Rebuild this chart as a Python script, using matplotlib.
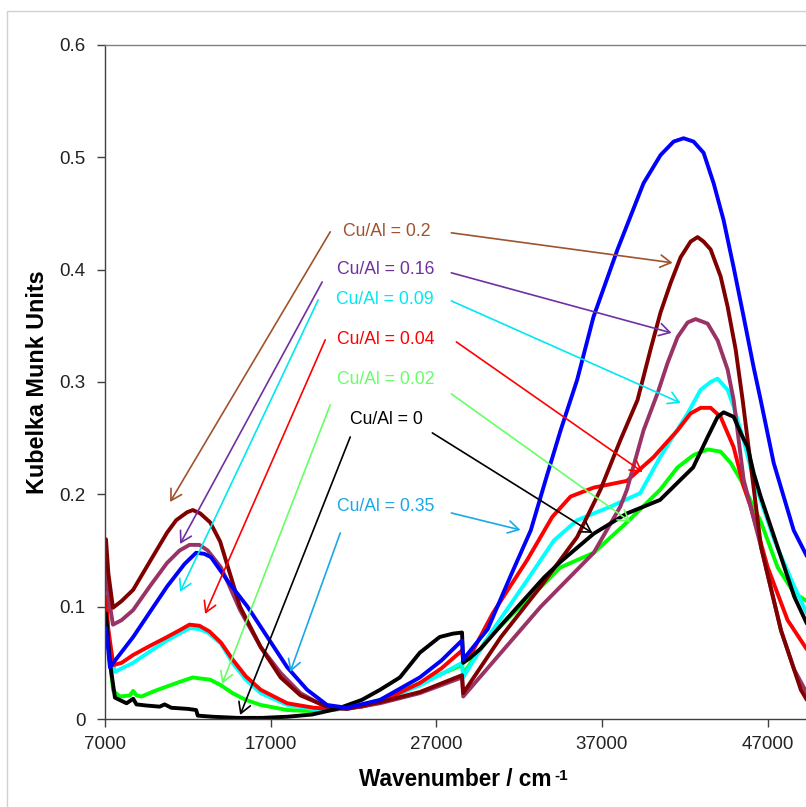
import matplotlib
matplotlib.use("Agg")
import matplotlib.pyplot as plt
from matplotlib.patches import Rectangle

plt.rcParams['font.family'] = ['Liberation Sans', 'DejaVu Sans']

# ---------------- data ----------------
wn_0 = [7060, 7300, 7600, 8300, 8700, 8900, 9500, 10300, 10600, 11000, 12000, 12500, 12600,
        13500, 15000, 16500, 18000, 19500, 21000, 22500, 23600, 24800, 26000, 27200, 28000,
        28550, 28620, 29000, 29700, 31000, 33500, 34500, 36500, 38500, 40500, 42500, 43373,
        43977, 44339, 44944, 45487, 45790, 46152, 46575, 47600, 48600, 49360]
km_0 = [0.094, 0.050, 0.019, 0.014, 0.018, 0.013, 0.012, 0.011, 0.013, 0.010, 0.009, 0.008, 0.003,
        0.002, 0.001, 0.001, 0.002, 0.004, 0.009, 0.017, 0.026, 0.037, 0.059, 0.073, 0.076,
        0.077, 0.050, 0.054, 0.063, 0.085, 0.126, 0.140, 0.165, 0.183, 0.195, 0.224, 0.251,
        0.269, 0.273, 0.269, 0.251, 0.242, 0.219, 0.198, 0.153, 0.109, 0.085]

wn_002 = [7060, 7300, 7500, 7900, 8500, 8700, 8900, 9200, 10000, 10750, 11500, 12300, 12800,
          13350, 14000, 14700, 15500, 16400, 18000, 19500, 20800, 22500, 23600, 26000, 28550,
          28620, 30000, 31500, 33000, 34500, 36500, 38500, 40500, 41560, 42527, 43373, 44158,
          44763, 45367, 46600, 47600, 48600, 49360]
km_002 = [0.094, 0.050, 0.025, 0.020, 0.021, 0.025, 0.021, 0.020, 0.025, 0.029, 0.033, 0.037, 0.036,
          0.035, 0.030, 0.023, 0.017, 0.0125, 0.008, 0.007, 0.008, 0.012, 0.017, 0.032, 0.048,
          0.040, 0.070, 0.092, 0.113, 0.135, 0.148, 0.175, 0.204, 0.224, 0.235, 0.240, 0.238,
          0.228, 0.213, 0.175, 0.135, 0.112, 0.105]

wn_004 = [7060, 7200, 7500, 8000, 8700, 9700, 10750, 11500, 12100, 12700, 13300, 14000, 14700,
          15500, 16400, 18000, 19600, 20800, 22500, 23600, 26000, 27300, 28550, 28620, 29000,
          30400, 32500, 34000, 35100, 36500, 38500, 40100, 41560, 42346, 42950, 43554, 44158,
          44944, 45548, 45971, 47000, 48200, 49360]
km_004 = [0.109, 0.080, 0.048, 0.050, 0.057, 0.065, 0.073, 0.079, 0.084, 0.083, 0.078, 0.068, 0.053,
          0.038, 0.026, 0.014, 0.010, 0.009, 0.011, 0.015, 0.032, 0.045, 0.061, 0.052, 0.055,
          0.094, 0.142, 0.180, 0.198, 0.206, 0.212, 0.233, 0.257, 0.272, 0.277, 0.277, 0.269,
          0.242, 0.207, 0.189, 0.135, 0.088, 0.062]

wn_009 = [7060, 7250, 7600, 8000, 8700, 9700, 10750, 11500, 12100, 12700, 13200, 14000, 14700,
          15500, 16400, 18000, 19500, 20400, 22500, 23600, 26000, 27300, 28550, 28620, 28900,
          30400, 32500, 34100, 35500, 37500, 39300, 40500, 42165, 42950, 43554, 43977, 44581,
          44944, 45548, 46152, 47400, 48600, 49360]
km_009 = [0.100, 0.070, 0.042, 0.045, 0.050, 0.060, 0.070, 0.076, 0.081, 0.080, 0.077, 0.067, 0.050,
          0.035, 0.023, 0.0125, 0.009, 0.008, 0.011, 0.015, 0.030, 0.040, 0.050, 0.037, 0.044,
          0.079, 0.124, 0.159, 0.177, 0.189, 0.201, 0.233, 0.272, 0.293, 0.300, 0.303, 0.293,
          0.278, 0.248, 0.213, 0.159, 0.118, 0.094]

wn_016 = [7060, 7200, 7480, 8000, 8700, 9700, 10750, 11500, 12100, 12700, 13200, 14000, 14400,
          15150, 16400, 17600, 18800, 20400, 21600, 23600, 26000, 28550, 28620, 30900, 33300,
          34500, 36500, 38100, 38500, 39506, 40352, 40956, 41560, 42165, 42648, 43373, 43977,
          44581, 44944, 45548, 46600, 47800, 48600, 49360]
km_016 = [0.139, 0.110, 0.084, 0.088, 0.097, 0.118, 0.139, 0.150, 0.155, 0.155, 0.150, 0.135, 0.122,
          0.097, 0.064, 0.041, 0.023, 0.010, 0.009, 0.014, 0.023, 0.037, 0.020, 0.059, 0.100,
          0.118, 0.148, 0.189, 0.204, 0.257, 0.290, 0.317, 0.340, 0.353, 0.356, 0.352, 0.337,
          0.311, 0.284, 0.213, 0.153, 0.079, 0.044, 0.023]

wn_02 = [7060, 7200, 7480, 8000, 8700, 9700, 10750, 11300, 11950, 12300, 12750, 13350, 13950,
         15150, 16400, 17600, 18800, 20400, 21600, 23600, 26000, 28550, 28620, 30900, 33300,
         35500, 36900, 38100, 39143, 39929, 40533, 41137, 41742, 42346, 42769, 43131, 43554,
         44158, 44581, 45065, 45487, 46600, 47800, 49000, 49360]
km_02 = [0.160, 0.130, 0.099, 0.105, 0.115, 0.140, 0.166, 0.177, 0.184, 0.186, 0.183, 0.175, 0.158,
         0.100, 0.064, 0.037, 0.021, 0.011, 0.009, 0.015, 0.024, 0.039, 0.023, 0.073, 0.118,
         0.162, 0.204, 0.248, 0.284, 0.329, 0.362, 0.388, 0.411, 0.425, 0.429, 0.425, 0.418,
         0.394, 0.367, 0.329, 0.284, 0.153, 0.079, 0.026, 0.017]

wn_035 = [7060, 7300, 7500, 8700, 9700, 10750, 11800, 12500, 13000, 13400, 14500, 15600, 16800,
          18000, 19200, 20400, 21600, 23600, 26000, 27300, 28550, 28620, 30100, 31500, 32700,
          33600, 34500, 35500, 36485, 37935, 39506, 40533, 41319, 41923, 42527, 43131, 43735,
          44339, 44944, 45548, 46152, 46575, 47360, 48569, 49360]
km_035 = [0.081, 0.046, 0.050, 0.073, 0.095, 0.118, 0.138, 0.148, 0.147, 0.144, 0.121, 0.100, 0.073,
          0.046, 0.026, 0.0125, 0.010, 0.017, 0.037, 0.052, 0.070, 0.053, 0.080, 0.128, 0.168,
          0.213, 0.257, 0.302, 0.358, 0.418, 0.477, 0.502, 0.514, 0.517, 0.514, 0.504, 0.477,
          0.444, 0.402, 0.358, 0.313, 0.284, 0.228, 0.168, 0.145]

labels = ["Cu/Al = 0.2", "Cu/Al = 0.16", "Cu/Al = 0.09", "Cu/Al = 0.04",
          "Cu/Al = 0.02", "Cu/Al = 0", "Cu/Al = 0.35"]
x_ticks = [7000, 17000, 27000, 37000, 47000]
y_ticks = [0, 0.1, 0.2, 0.3, 0.4, 0.5, 0.6]

# ---------------- figure ----------------
W, H = 806, 807
fig = plt.figure(figsize=(W / 100, H / 100), dpi=100)
fig.patch.set_facecolor('white')
fig.patches.append(Rectangle((7 / W, -0.1), 1.2, 1.1 - 11 / H, transform=fig.transFigure,
                             fill=False, edgecolor='#d0d0d0', lw=1.0))

ax = fig.add_axes([105 / W, 1 - 719 / H, 1 - 105 / W + 0.001, (719 - 45) / H])

series = [
    (wn_002, km_002, '#00ff00'),
    (wn_009, km_009, '#00ffff'),
    (wn_004, km_004, '#ff0000'),
    (wn_016, km_016, '#993366'),
    (wn_02, km_02, '#800000'),
    (wn_0, km_0, '#000000'),
    (wn_035, km_035, '#0000ff'),
]
for wn, km, c in series:
    ax.plot(wn, km, color=c, lw=2.8, solid_joinstyle='round', solid_capstyle='round')

ax.set_xlim(7000, 49360)
ax.set_ylim(0, 0.6)
ax.set_xticks(x_ticks)
ax.set_yticks(y_ticks)
ax.set_xticklabels([str(v) for v in x_ticks])
ax.set_yticklabels(['%g' % v for v in y_ticks])
ax.tick_params(direction='out', length=6, width=1, color='#404040',
               labelsize=13.5, labelcolor='#222222')
ax.tick_params(axis='x', pad=6)
ax.tick_params(axis='y', pad=8)
for s in ['left', 'bottom']:
    ax.spines[s].set_color('#404040')
    ax.spines[s].set_linewidth(1.0)
ax.spines['top'].set_color('#808080')
ax.spines['top'].set_linewidth(1.0)
ax.spines['right'].set_visible(False)

fig.text(38 / W, 1 - 382 / H, 'Kubelka Munk Units', rotation=90, ha='center', va='center',
         fontsize=16.8, fontweight='bold')
fig.text(359 / W, 1 - 786 / H, 'Wavenumber / cm', ha='left', va='baseline',
         fontsize=16.3, fontweight='bold')
fig.text(554 / W, 1 - 780 / H, '-1', ha='left', va='baseline',
         fontsize=11, fontweight='bold')

# ---------------- annotations ----------------
ann_colors = ['#a0522d', '#7030a0', '#00e8f0', '#ff0000', '#66ff66', '#000000', '#1aa8e6']
text_pos = [(23978, 0.4337), (23918, 0.3998), (23918, 0.3731), (23918, 0.3375),
            (23918, 0.3019), (23978, 0.2662), (23918, 0.1888)]
left_arrows = [((20595, 0.4337), (10927, 0.1932)),
               ((20111, 0.3891), (11532, 0.1558)),
               ((19869, 0.3731), (11532, 0.1131)),
               ((20293, 0.3375), (13042, 0.0935)),
               ((20595, 0.2796), (14069, 0.0312)),
               ((21803, 0.2511), (15157, 0.0036)),
               ((21199, 0.1656), (18178, 0.0419))]
right_arrows = [((27905, 0.4328), (41258, 0.4061)),
                ((27905, 0.3972), (41198, 0.3437)),
                ((27905, 0.3722), (41742, 0.2814)),
                ((28207, 0.3357), (39446, 0.2199)),
                ((27905, 0.2894), (38720, 0.1754)),
                ((26758, 0.2547), (36425, 0.1656)),
                ((27905, 0.1834), (32074, 0.1683))]

for lab, c, tp, la, ra in zip(labels, ann_colors, text_pos, left_arrows, right_arrows):
    ax.text(tp[0], tp[1], lab, color=c, fontsize=12.7, ha='center', va='center')
    for start, tip in (la, ra):
        ax.annotate('', xy=tip, xytext=start,
                    arrowprops=dict(arrowstyle='->,head_length=0.6,head_width=0.35',
                                    color=c, lw=1.2, shrinkA=0, shrinkB=0,
                                    mutation_scale=12.7))

fig.savefig('out.png', dpi=100, facecolor='white')
